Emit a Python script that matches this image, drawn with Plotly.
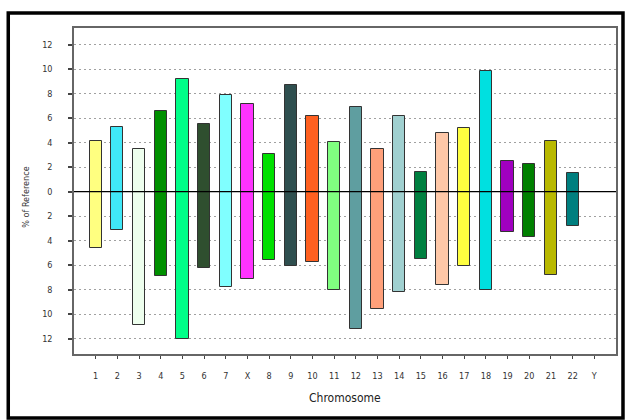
import plotly.graph_objects as go

# Chromosome order as laid out along the x axis
chromosomes = ["1", "2", "3", "4", "5", "6", "7", "X", "8", "9", "10", "11",
               "12", "13", "14", "15", "16", "17", "18", "19", "20", "21", "22", "Y"]

# Upper and lower extent (% of reference) for each chromosome; Y has no bar
upper = [4.15, 5.3, 3.5, 6.6, 9.2, 5.5, 7.85, 7.15, 3.1, 8.7, 6.2, 4.05,
         6.9, 3.5, 6.2, 1.6, 4.75, 5.2, 9.85, 2.5, 2.25, 4.1, 1.55, None]
lower = [-4.6, -3.1, -10.9, -6.9, -12.0, -6.2, -7.8, -7.1, -5.6, -6.1, -5.75, -8.05,
         -11.2, -9.55, -8.2, -5.5, -7.6, -6.05, -8.0, -3.25, -3.7, -6.8, -2.8, None]

colors = ["#FFFF80", "#40E8F8", "#EEFFEE", "#009000", "#00FF88", "#2F4F2F",
          "#80FFFF", "#FF33FF", "#00E000", "#2F4F4F", "#FF6020", "#80FF80",
          "#5F9EA0", "#FFA07A", "#A0D0D0", "#008040", "#FFC8A8", "#FFFF40",
          "#00E0E0", "#A000C0", "#008000", "#B8B800", "#007F7F", "#FFFFFF"]

y_ticks = [12, 10, 8, 6, 4, 2, 0, -2, -4, -6, -8, -10, -12]
y_tick_text = [str(abs(v)) for v in y_ticks]

positions = list(range(1, len(chromosomes) + 1))
heights = [None if u is None else u - l for u, l in zip(upper, lower)]

fig = go.Figure()
fig.add_trace(go.Bar(
    x=positions,
    y=heights,
    base=lower,
    width=0.565,
    marker=dict(color=colors, line=dict(color="#333333", width=1)),
    showlegend=False,
))

narrow = "DejaVu Sans Condensed, Liberation Sans Narrow, Arial Narrow, sans-serif"
tick_font = dict(family=narrow, size=9, color="#333333")

fig.update_layout(
    width=629, height=420,
    margin=dict(l=74, r=11, t=28, b=66),
    paper_bgcolor="white",
    plot_bgcolor="white",
    bargap=0,
    xaxis=dict(
        range=[0, 25],
        tickmode="array",
        tickvals=positions,
        ticktext=chromosomes,
        ticks="outside", ticklen=3, tickcolor="#444444", tickwidth=1,
        tickfont=tick_font,
        ticklabelstandoff=9,
        showgrid=False, zeroline=False,
        showline=True, linecolor="#666666", linewidth=1.5, mirror=True,
    ),
    yaxis=dict(
        range=[-13.24, 13.35],
        tickmode="array",
        tickvals=y_ticks,
        ticktext=y_tick_text,
        ticks="outside", ticklen=4, tickcolor="#444444", tickwidth=1.5,
        tickfont=tick_font,
        ticklabelstandoff=14,
        showgrid=True, gridcolor="#a0a0a0", griddash="2px,3px", gridwidth=1,
        zeroline=False,
        showline=True, linecolor="#666666", linewidth=1.5, mirror=True,
    ),
    shapes=[
        # zero reference line
        dict(type="line", xref="paper", yref="y", x0=0, x1=1, y0=0, y1=0,
             line=dict(color="black", width=1.2), layer="above"),
        # thick outer frame around the whole chart
        dict(type="rect", xref="paper", yref="paper",
             x0=-0.1213, x1=1.0129, y0=-0.196, y1=1.046,
             line=dict(color="black", width=3.5)),
    ],
    annotations=[
        dict(text="% of Reference", xref="paper", yref="paper",
             x=-0.09, y=0.48, xanchor="center", yanchor="middle",
             textangle=-90, showarrow=False,
             font=dict(family=narrow, size=9, color="#333333")),
        dict(text="Chromosome", xref="paper", yref="paper",
             x=0.5, y=-0.135, xanchor="center", yanchor="middle",
             showarrow=False,
             font=dict(family=narrow, size=12, color="#222222")),
    ],
)

fig.write_html("out.html")
